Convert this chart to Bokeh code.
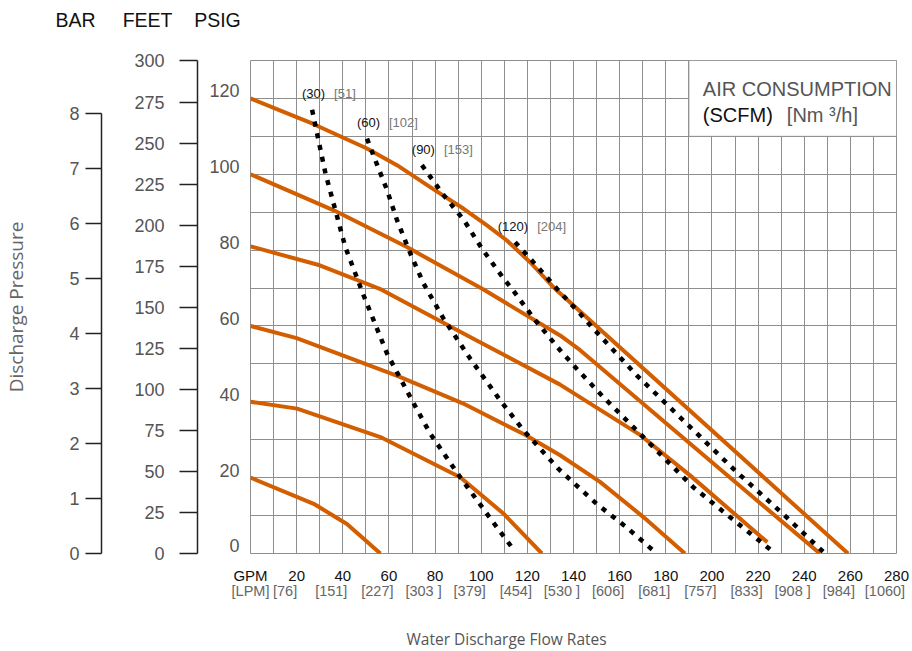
from bokeh.plotting import figure
from bokeh.models import (Range1d, LinearAxis, FixedTicker, SingleIntervalTicker, Grid,
                          BoxAnnotation, Label, LabelSet, Title, ColumnDataSource)
from bokeh.core.properties import value
from bokeh.embed import file_html
from bokeh.resources import INLINE

# ---------------- data ----------------
gpm_ticks = [20, 40, 60, 80, 100, 120, 140, 160, 180, 200, 220, 240, 260, 280]
lpm_labels = ["[76]", "[151]", "[227]", "[303 ]", "[379]", "[454]", "[530 ]", "[606]",
              "[681]", "[757]", "[833]", "[908 ]", "[984]", "[1060]"]
psig_ticks = [0, 20, 40, 60, 80, 100, 120]
feet_ticks = [0, 25, 50, 75, 100, 125, 150, 175, 200, 225, 250, 275, 300]
bar_ticks = [0, 1, 2, 3, 4, 5, 6, 7, 8]
scale_headers = ["BAR", "FEET", "PSIG"]

# discharge-pressure curves (GPM, PSIG), one per air inlet pressure
curve_120_gpm = [0, 13, 26.7, 50.5, 63.5, 77.9, 92.4, 102.5, 111, 121.2, 132, 259]
curve_120_psig = [120, 116.8, 113.4, 106.8, 102.4, 96.6, 90.9, 86.5, 82.6, 76.8, 69.8, 0]
curve_100_gpm = [0, 36.1, 67.8, 101, 134.2, 142.9, 209.2, 246.8]
curve_100_psig = [100, 90.5, 80.8, 69.6, 57.5, 53.6, 19.3, 0]
curve_80_gpm = [0, 30, 56, 97, 134, 169, 190.5, 224]
curve_80_psig = [81, 76, 69.8, 56.5, 44.6, 31.2, 20.6, 3]
curve_60_gpm = [0, 20, 64.2, 92, 119, 134.2, 151.5, 170.3, 188.3]
curve_60_psig = [60, 56.8, 46.7, 39.6, 31.3, 25.9, 18.9, 9.6, 0]
curve_40_gpm = [0, 20.2, 56.3, 90.9, 109.7, 126.3]
curve_40_psig = [40, 38.2, 30.7, 20.1, 10.5, 0]
curve_20_gpm = [0, 27.4, 41.8, 56.3]
curve_20_psig = [20, 13.1, 7.8, 0]

# air consumption lines (SCFM)
scfm_30_gpm = [26.7, 32.5, 36.8, 41.1, 49, 59.2, 70, 77.9, 90.9, 106.8, 114.7]
scfm_30_psig = [117, 100.2, 90.5, 80.8, 68.1, 52.7, 40.4, 31.6, 20.1, 6.9, 0.5]
scfm_60_gpm = [50.5, 54.1, 59.2, 63.5, 69.3, 75, 83.7, 95.2, 108.2, 118.3, 133.5, 150, 163, 175.3]
scfm_60_psig = [109.4, 103.7, 95.8, 87.9, 79.1, 71.2, 61.9, 51.4, 40.4, 32.5, 22.3, 13.1, 6.9, 0.4]
scfm_90_gpm = [74.3, 83.7, 92.4, 100.3, 109.7, 113.3, 123.4, 134.2, 141.4, 153, 173.2, 191.9, 207.8, 226.6]
scfm_90_psig = [102.4, 94.5, 88.0, 80.4, 72.5, 69.8, 61.5, 53.6, 48.7, 41.2, 28.9, 17.5, 9.6, 0.4]
scfm_120_gpm = [114.7, 121.9, 132.8, 142.9, 148.6, 167.4, 187.6, 210.7, 232.3, 248.3]
scfm_120_psig = [82.1, 77.3, 69.8, 63.2, 59.3, 47, 35.1, 21.5, 9.6, 0.4]
scfm_values = [30, 60, 90, 120]
nm3h_values = [51, 102, 153, 204]

# ---------------- styling / layout constants ----------------
PSI_PER_BAR = 14.5038
FT_PER_PSI = 2.31
ORANGE = "#D35E00"
GRID = "#8e8e8e"
AXC = "#222222"
LABC = "#555555"
FONT = "Liberation Sans"
WIDE = "Open Sans"
W, H = 912, 651
FL, FT, FR, FB = 250, 60, 16, 98          # frame borders (px)

p = figure(width=W, height=H, x_range=Range1d(0, 280), y_range=Range1d(0, 130),
           output_backend="svg", toolbar_location=None, x_axis_type=None, y_axis_type=None,
           min_border_left=FL, min_border_top=FT, min_border_right=FR, min_border_bottom=FB)
p.title.visible = False
p.outline_line_color = GRID
p.outline_line_width = 1
p.background_fill_color = "white"
p.border_fill_color = "white"
p.extra_y_ranges = {"bar": Range1d(0, 130 / PSI_PER_BAR), "feet": Range1d(0, 130 * FT_PER_PSI)}

for dim in (0, 1):
    p.add_layout(Grid(dimension=dim, ticker=SingleIntervalTicker(interval=10),
                      grid_line_color=GRID, grid_line_width=1))

# ---------------- curves ----------------
curves = [(curve_120_gpm, curve_120_psig), (curve_100_gpm, curve_100_psig),
          (curve_80_gpm, curve_80_psig), (curve_60_gpm, curve_60_psig),
          (curve_40_gpm, curve_40_psig), (curve_20_gpm, curve_20_psig)]
for xs, ys in curves:
    p.line(xs, ys, line_color=ORANGE, line_width=4, line_join="round")

dotted = [(scfm_30_gpm, scfm_30_psig), (scfm_60_gpm, scfm_60_psig),
          (scfm_90_gpm, scfm_90_psig), (scfm_120_gpm, scfm_120_psig)]
for xs, ys in dotted:
    p.line(xs, ys, line_color="black", line_width=4.5, line_dash="5 7")

lab_src = ColumnDataSource(dict(
    x=[d[0][0] for d in dotted], y=[d[1][0] for d in dotted],
    scfm=["(%d)" % v for v in scfm_values], nm=["[%d]" % v for v in nm3h_values]))
p.add_layout(LabelSet(x="x", y="y", text="scfm", source=lab_src, x_offset=13, y_offset=16,
                      text_align="right", text_baseline="middle", text_font=value(FONT),
                      text_font_size="13px", text_color="#111111"))
p.add_layout(LabelSet(x="x", y="y", text="nm", source=lab_src, x_offset=22, y_offset=16,
                      text_align="left", text_baseline="middle", text_font=value(FONT),
                      text_font_size="13px", text_color="#777777"))

# ---------------- legend box ----------------
p.add_layout(BoxAnnotation(left=190, right=280, bottom=110, top=130, fill_color="white",
                           fill_alpha=1, line_color=GRID, line_width=1, line_alpha=1))
p.add_layout(Label(x=190, y=130, x_offset=14, y_offset=-28, text="AIR CONSUMPTION",
                   text_baseline="middle", text_font=FONT, text_font_size="20px",
                   text_color=LABC))
p.add_layout(Label(x=190, y=130, x_offset=14, y_offset=-54, text="(SCFM)",
                   text_baseline="middle", text_font=FONT, text_font_size="20px",
                   text_color="#111111"))
p.add_layout(Label(x=190, y=130, x_offset=98, y_offset=-54, text="[Nm \u00b3/h]",
                   text_baseline="middle", text_font=FONT, text_font_size="20px",
                   text_color=LABC))

# ---------------- left axes ----------------
GAP = dict(axis_label=" ", axis_label_text_font_size="1px")
LIFT = 2
psig_axis = LinearAxis(ticker=FixedTicker(ticks=[v + LIFT for v in psig_ticks]),
                       major_label_overrides={v + LIFT: str(v) for v in psig_ticks},
                       axis_line_color=None, major_tick_line_color=None, major_tick_out=0,
                       major_tick_in=0, minor_tick_line_color=None, major_label_standoff=11,
                       major_label_text_font=FONT, major_label_text_font_size="18px",
                       major_label_text_color=LABC, axis_label_standoff=5, **GAP)
feet_axis = LinearAxis(y_range_name="feet", ticker=FixedTicker(ticks=feet_ticks), bounds=(0, 300),
                       axis_line_color=AXC, axis_line_width=1.5, major_tick_out=18, major_tick_in=0,
                       major_tick_line_color=AXC, major_tick_line_width=1.5,
                       minor_tick_line_color=None, major_label_standoff=15,
                       major_label_text_font=FONT, major_label_text_font_size="18px",
                       major_label_text_color=LABC, axis_label_standoff=26, **GAP)
bar_axis = LinearAxis(y_range_name="bar", ticker=FixedTicker(ticks=bar_ticks), bounds=(0, 8),
                      axis_line_color=AXC, axis_line_width=1.5, major_tick_out=16, major_tick_in=0,
                      major_tick_line_color=AXC, major_tick_line_width=1.5,
                      minor_tick_line_color=None, major_label_standoff=6,
                      major_label_text_font=FONT, major_label_text_font_size="18px",
                      major_label_text_color=LABC, axis_label="Discharge Pressure",
                      axis_label_standoff=37, axis_label_text_font=WIDE,
                      axis_label_text_font_size="19px", axis_label_text_font_style="normal",
                      axis_label_text_color="#666666")
p.add_layout(psig_axis, "left")
p.add_layout(feet_axis, "left")
p.add_layout(bar_axis, "left")

# ---------------- bottom axes ----------------
LPM_SHIFT = 5
gpm_axis = LinearAxis(ticker=FixedTicker(ticks=[0] + gpm_ticks),
                      major_label_overrides={0: "GPM"},
                      axis_line_color=None, major_tick_line_color=None, major_tick_out=0,
                      major_tick_in=0, minor_tick_line_color=None, major_label_standoff=13,
                      major_label_text_font=FONT, major_label_text_font_size="15px",
                      major_label_text_color="#111111")
lpm_ticks = [max(t - LPM_SHIFT, 0) for t in [0] + gpm_ticks]
lpm_axis = LinearAxis(ticker=FixedTicker(ticks=lpm_ticks),
                      major_label_overrides=dict(zip(lpm_ticks, ["[LPM]"] + lpm_labels)),
                      axis_line_color=None, major_tick_line_color=None, major_tick_out=0,
                      major_tick_in=0, minor_tick_line_color=None, major_label_standoff=-4,
                      major_label_text_font=FONT, major_label_text_font_size="14.5px",
                      major_label_text_color="#666666", axis_label_standoff=19, **GAP)
p.add_layout(gpm_axis, "below")
p.add_layout(lpm_axis, "below")
p.add_layout(Title(text="Water Discharge Flow Rates", align="left", offset=156, standoff=2,
                   text_font=WIDE, text_font_size="15.5px", text_font_style="normal",
                   text_color=LABC), "below")

# ---------------- header row above the scales ----------------
NB = "\u00a0"
p.add_layout(Title(text=" ", text_font_size="1px", standoff=27), "above")
p.add_layout(Title(text=(NB * 5).join(scale_headers[:2]) + NB * 4 + scale_headers[2],
                   align="left", offset=55 - FL, standoff=0, text_font=FONT,
                   text_font_size="19.5px", text_font_style="normal", text_color="#111111"),
             "above")

open("out.html", "w").write(file_html(p, INLINE))
